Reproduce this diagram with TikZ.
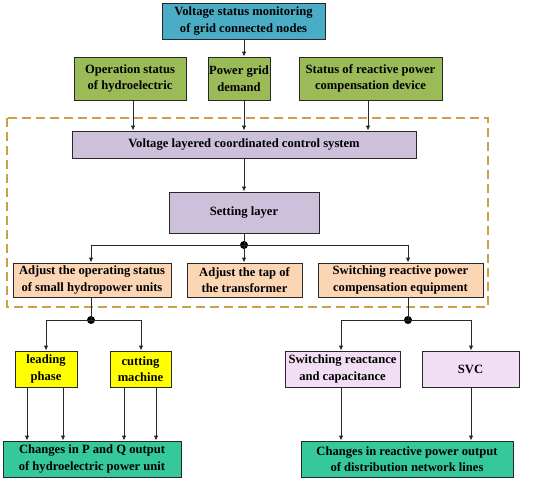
\documentclass[tikz,border=0pt]{standalone}
\usepackage{fontspec}
\setmainfont{Liberation Serif}
\usetikzlibrary{arrows.meta,calc}
\definecolor{cblue}{RGB}{75,172,198}
\definecolor{cgreen}{RGB}{155,187,89}
\definecolor{cpurple}{RGB}{204,192,218}
\definecolor{corange}{RGB}{252,213,181}
\definecolor{cyellow}{RGB}{255,255,0}
\definecolor{cpink}{RGB}{242,222,244}
\definecolor{cteal}{RGB}{52,200,155}
\definecolor{cgold}{RGB}{205,160,70}
\definecolor{cline}{RGB}{40,40,40}
\tikzset{
  box/.style={draw=cline, line width=0.9pt, inner sep=1pt, align=center,
    font=\fontsize{12.6}{16.5}\selectfont\bfseries},
  arr/.style={draw=cline, line width=0.9pt, -{Latex[length=5pt,width=4.5pt]}},
  ln/.style={draw=cline, line width=0.9pt},
  jdot/.style={circle, fill=black, inner sep=0pt, minimum size=8pt}
}
\begin{document}
\begin{tikzpicture}[x=1pt,y=-1pt]
\useasboundingbox (0,0) rectangle (546,480);
% dashed frame
\draw[cgold, line width=2pt, dash pattern=on 9pt off 5pt] (7,118) rectangle (488,307);
% nodes
\node[box, fill=cblue, minimum width=163pt, minimum height=36pt] (top) at (243.5,21) {Voltage status monitoring\\of grid connected nodes};
\node[box, fill=cgreen, minimum width=112pt, minimum height=43pt] (op) at (130,78.5) {Operation status\\of hydroelectric};
\node[box, fill=cgreen, minimum width=62pt, minimum height=43pt] (pg) at (239,78.5) {Power grid\\demand};
\node[box, fill=cgreen, minimum width=143pt, minimum height=43pt] (st) at (370.5,78.5) {Status of reactive power\\compensation device};
\node[box, fill=cpurple, minimum width=344pt, minimum height=27pt] (sys) at (244,144.5) {Voltage layered coordinated control system};
\node[box, fill=cpurple, minimum width=150pt, minimum height=41pt] (set) at (244,212.5) {Setting layer};
\node[jdot] (j1) at (244,245) {};
\node[box, fill=corange, minimum width=158pt, minimum height=34pt] (adj1) at (92,280) {Adjust the operating status\\of small hydropower units};
\node[box, fill=corange, minimum width=115pt, minimum height=34pt] (adj2) at (244.5,280) {Adjust the tap of\\the transformer};
\node[box, fill=corange, minimum width=165pt, minimum height=34pt] (adj3) at (400.5,280) {Switching reactive power\\compensation equipment};
\node[jdot] (j2) at (91,320) {};
\node[jdot] (j3) at (408,320) {};
\node[box, fill=cyellow, minimum width=62pt, minimum height=36pt] (lp) at (46,369) {leading\\phase};
\node[box, fill=cyellow, minimum width=61pt, minimum height=36pt] (cm) at (140.5,369) {cutting\\machine};
\node[box, fill=cpink, minimum width=115pt, minimum height=36pt] (sr) at (342.5,369) {Switching reactance\\and capacitance};
\node[box, fill=cpink, minimum width=97pt, minimum height=36pt] (svc) at (470.5,369) {SVC};
\node[box, fill=cteal, minimum width=178pt, minimum height=36pt] (pq) at (92,459) {Changes in P and Q output\\of hydroelectric power unit};
\node[box, fill=cteal, minimum width=212pt, minimum height=36pt] (rp) at (407,459) {Changes in reactive power output\\of distribution network lines};
% helper x-coordinates
\coordinate (x27) at (27,0);
\coordinate (x63) at (63,0);
\coordinate (x124) at (124,0);
\coordinate (x156) at (156,0);
\coordinate (x341) at (341,0);
\coordinate (x471) at (471,0);
\coordinate (x408) at (408,0);
\coordinate (x91) at (91,0);
\coordinate (x46) at (46,0);
\coordinate (x141) at (141,0);
\coordinate (x133) at (133,0);
\coordinate (x244) at (244,0);
\coordinate (x368) at (368,0);
% connectors
\draw[arr] (top.south -| x244) -- (pg.north -| x244);
\draw[arr] (op.south -| x133) -- (sys.north -| x133);
\draw[arr] (pg.south -| x244) -- (sys.north -| x244);
\draw[arr] (st.south -| x368) -- (sys.north -| x368);
\draw[arr] (sys.south -| x244) -- (set.north -| x244);
\draw[ln] (set.south) -- (j1.center);
\draw[ln] (j1.center -| x91) -- (j1.center -| x408);
\draw[arr] (j1.center -| x91) -- (adj1.north -| x91);
\draw[arr] (j1.center) -- (adj2.north -| j1);
\draw[arr] (j1.center -| x408) -- (adj3.north -| x408);
\draw[ln] (adj1.south -| x91) -- (j2.center);
\draw[ln] (j2.center -| x46) -- (j2.center -| x141);
\draw[arr] (j2.center -| x46) -- (lp.north -| x46);
\draw[arr] (j2.center -| x141) -- (cm.north -| x141);
\draw[ln] (adj3.south -| x408) -- (j3.center);
\draw[ln] (j3.center -| x341) -- (j3.center -| x471);
\draw[arr] (j3.center -| x341) -- (sr.north -| x341);
\draw[arr] (j3.center -| x471) -- (svc.north -| x471);
\draw[arr] (lp.south -| x27) -- (pq.north -| x27);
\draw[arr] (lp.south -| x63) -- (pq.north -| x63);
\draw[arr] (cm.south -| x124) -- (pq.north -| x124);
\draw[arr] (cm.south -| x156) -- (pq.north -| x156);
\draw[arr] (sr.south -| x341) -- (rp.north -| x341);
\draw[arr] (svc.south -| x471) -- (rp.north -| x471);
\end{tikzpicture}
\end{document}
